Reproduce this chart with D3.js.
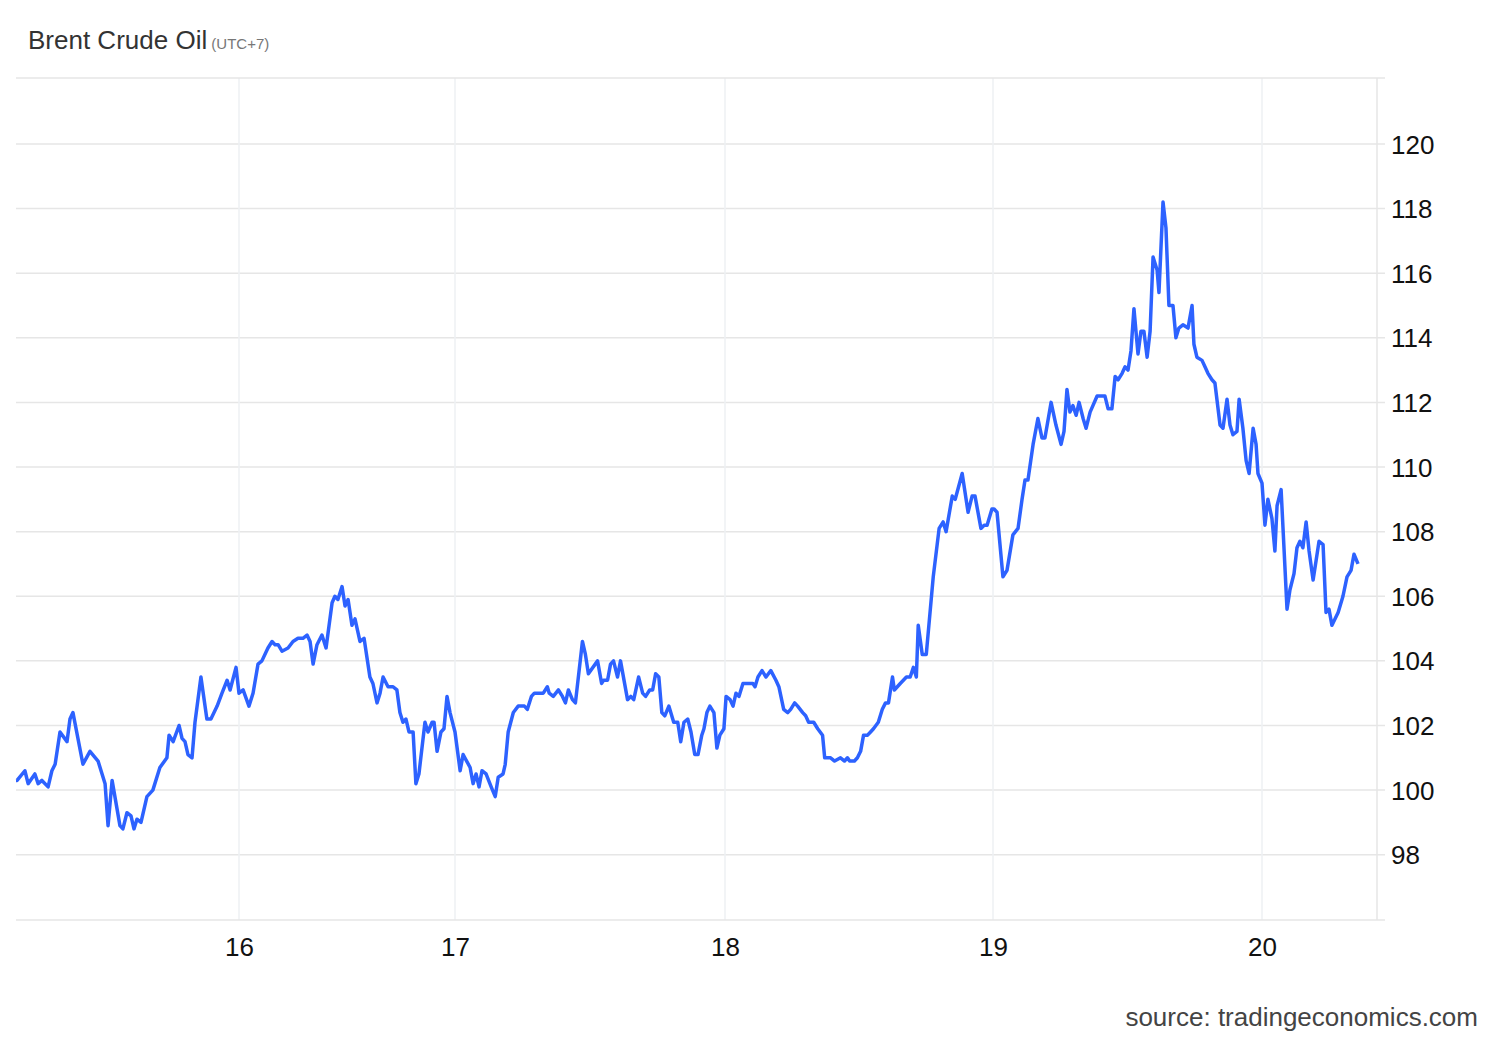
<!DOCTYPE html>
<html>
<head>
<meta charset="utf-8">
<script src="https://cdn.jsdelivr.net/npm/d3@7"></script>
<style>
  body { margin: 0; background: #fff; font-family: "Liberation Sans", Arial, sans-serif; }
  .grid line { stroke: #e6e6e6; stroke-width: 1.5; }
  .axis path, .axis line { display: none; }
  .axis text { font-size: 26px; fill: #111; font-family: "Liberation Sans", Arial, sans-serif; }
</style>
</head>
<body>
<svg id="chart" width="1500" height="1040"></svg>
<script>
// day of month (fractional, session time) and price in USD/bbl
var days = [15.174,15.178,15.207,15.219,15.244,15.256,15.270,15.293,15.307,15.319,15.337,15.363,15.374,15.385,15.422,15.448,15.478,15.504,15.515,15.530,15.559,15.570,15.585,15.600,15.611,15.622,15.637,15.659,15.681,15.707,15.733,15.741,15.756,15.778,15.789,15.800,15.811,15.826,15.837,15.859,15.881,15.896,15.919,15.937,15.956,15.967,15.989,16.000,
  16.019,16.046,16.065,16.088,16.106,16.134,16.153,16.167,16.181,16.199,16.227,16.250,16.273,16.296,16.315,16.329,16.343,16.361,16.384,16.403,16.431,16.444,16.458,16.477,16.491,16.505,16.523,16.537,16.560,16.579,16.606,16.620,16.639,16.653,16.667,16.690,16.713,16.731,16.745,16.759,16.773,16.787,16.806,16.819,16.833,16.861,16.875,16.894,16.903,16.917,16.935,16.949,16.963,16.977,17.000,
  17.019,17.030,17.056,17.067,17.078,17.089,17.100,17.115,17.134,17.149,17.160,17.178,17.186,17.197,17.216,17.234,17.249,17.257,17.268,17.283,17.294,17.316,17.327,17.342,17.349,17.364,17.383,17.398,17.409,17.420,17.435,17.446,17.472,17.483,17.494,17.528,17.543,17.550,17.565,17.576,17.587,17.602,17.613,17.639,17.651,17.662,17.680,17.695,17.706,17.721,17.732,17.743,17.755,17.766,17.777,17.792,17.810,17.825,17.836,17.848,17.862,17.874,17.888,17.900,17.914,17.922,17.933,17.944,17.959,17.970,17.981,17.996,
  18.004,18.019,18.030,18.041,18.052,18.067,18.086,18.104,18.112,18.123,18.138,18.153,18.171,18.190,18.201,18.219,18.234,18.245,18.260,18.271,18.290,18.301,18.312,18.331,18.346,18.364,18.372,18.394,18.409,18.431,18.446,18.457,18.465,18.483,18.494,18.506,18.517,18.532,18.543,18.554,18.572,18.587,18.599,18.610,18.625,18.632,18.654,18.677,18.691,18.703,18.714,18.721,18.736,18.751,18.777,18.799,18.814,18.825,18.848,18.859,18.885,18.907,18.922,18.933,18.955,18.967,18.978,18.996,
  19.004,19.015,19.037,19.052,19.074,19.093,19.108,19.119,19.130,19.149,19.167,19.182,19.193,19.216,19.234,19.253,19.264,19.275,19.286,19.297,19.309,19.320,19.335,19.346,19.361,19.387,19.401,19.416,19.428,19.442,19.454,19.465,19.480,19.491,19.502,19.513,19.524,19.539,19.550,19.561,19.573,19.584,19.595,19.610,19.617,19.632,19.643,19.654,19.669,19.680,19.691,19.706,19.725,19.740,19.747,19.758,19.777,19.788,19.799,19.814,19.825,19.844,19.855,19.870,19.881,19.892,19.907,19.915,19.929,19.941,19.952,19.967,19.978,19.985,
  20.000,20.011,20.022,20.037,20.048,20.056,20.071,20.093,20.104,20.119,20.130,20.141,20.152,20.164,20.175,20.190,20.201,20.212,20.227,20.238,20.249,20.260,20.283,20.301,20.316,20.331,20.342,20.357];

var prices = [100.3,100.3,100.6,100.2,100.5,100.2,100.3,100.1,100.6,100.8,101.8,101.5,102.2,102.4,100.8,101.2,100.9,100.2,98.9,100.3,98.9,98.8,99.3,99.2,98.8,99.1,99.0,99.8,100.0,100.7,101.0,101.7,101.5,102.0,101.6,101.5,101.1,101.0,102.1,103.5,102.2,102.2,102.6,103.0,103.4,103.1,103.8,103.0,
  103.1,102.6,103.0,103.9,104.0,104.4,104.6,104.5,104.5,104.3,104.4,104.6,104.7,104.7,104.8,104.6,103.9,104.5,104.8,104.4,105.8,106.0,105.9,106.3,105.7,105.9,105.1,105.3,104.6,104.7,103.5,103.3,102.7,103.0,103.5,103.2,103.2,103.1,102.4,102.1,102.2,101.8,101.8,100.2,100.5,102.1,101.8,102.1,102.1,101.2,101.8,101.9,102.9,102.4,101.8,
  100.6,101.1,100.7,100.2,100.5,100.1,100.6,100.5,100.1,99.8,100.4,100.5,100.8,101.8,102.4,102.6,102.6,102.6,102.5,102.9,103.0,103.0,103.0,103.2,103.0,102.9,103.1,102.9,102.7,103.1,102.8,102.7,104.6,104.2,103.6,104.0,103.3,103.4,103.4,103.9,104.0,103.5,104.0,102.8,102.9,102.8,103.5,103.0,102.9,103.1,103.1,103.6,103.5,102.4,102.3,102.6,102.1,102.1,101.5,102.1,102.2,101.8,101.1,101.1,101.7,101.9,102.4,102.6,102.4,101.3,101.7,101.9,
  102.9,102.8,102.6,103.0,102.9,103.3,103.3,103.3,103.2,103.5,103.7,103.5,103.7,103.4,103.2,102.5,102.4,102.5,102.7,102.6,102.4,102.3,102.1,102.1,101.9,101.7,101.0,101.0,100.9,101.0,100.9,101.0,100.9,100.9,101.0,101.2,101.7,101.7,101.8,101.9,102.1,102.5,102.7,102.7,103.5,103.1,103.3,103.5,103.5,103.8,103.5,105.1,104.2,104.2,106.6,108.1,108.3,108.0,109.1,109.0,109.8,108.6,109.1,109.1,108.1,108.2,108.2,108.7,
  108.7,108.6,106.6,106.8,107.9,108.1,109.0,109.6,109.6,110.7,111.5,110.9,110.9,112.0,111.3,110.7,111.1,112.4,111.7,111.9,111.6,112.0,111.5,111.2,111.7,112.2,112.2,112.2,111.8,111.8,112.8,112.7,112.9,113.1,113.0,113.6,114.9,113.5,114.2,114.2,113.4,114.2,116.5,116.1,115.4,118.2,117.4,115.0,115.0,114.0,114.3,114.4,114.3,115.0,113.8,113.4,113.3,113.1,112.9,112.7,112.6,111.3,111.2,112.1,111.3,111.0,111.1,112.1,111.2,110.2,109.8,111.2,110.7,109.8,
  109.5,108.2,109.0,108.4,107.4,108.8,109.3,105.6,106.2,106.7,107.5,107.7,107.5,108.3,107.4,106.5,107.1,107.7,107.6,105.5,105.6,105.1,105.5,106.0,106.6,106.8,107.3,107.0];

var xTicks = [16, 17, 18, 19, 20];
var yTicks = [98, 100, 102, 104, 106, 108, 110, 112, 114, 116, 118, 120];

var svg = d3.select("#chart");
var plot = { left: 16, right: 1377, top: 78, bottom: 920 };

// sessions are not equally long (16th is shorter), so a piecewise scale
var x = d3.scaleLinear()
  .domain([15, 16, 17, 18, 19, 20, 21])
  .range([-31, 239, 455, 725, 993, 1262, 1531]);

var y = d3.scaleLinear()
  .domain([95.98, 122.04])
  .range([plot.bottom, plot.top]);

// horizontal grid
svg.append("g").attr("class", "grid")
  .selectAll("line")
  .data(yTicks)
  .enter().append("line")
  .attr("x1", plot.left).attr("x2", plot.right + 8)
  .attr("y1", function(d) { return y(d); })
  .attr("y2", function(d) { return y(d); });

// vertical grid
svg.append("g").attr("class", "grid")
  .selectAll("line")
  .data(xTicks)
  .enter().append("line")
  .attr("x1", function(d) { return x(d); })
  .attr("x2", function(d) { return x(d); })
  .attr("y1", plot.top).attr("y2", plot.bottom)
  .style("stroke", "#eef0f3");

// frame lines: top, bottom, right
svg.append("line").attr("x1", plot.left).attr("x2", plot.right + 8)
  .attr("y1", plot.top).attr("y2", plot.top).style("stroke", "#e6e6e6").style("stroke-width", 1.5);
svg.append("line").attr("x1", plot.left).attr("x2", plot.right + 8)
  .attr("y1", plot.bottom).attr("y2", plot.bottom).style("stroke", "#e6e6e6").style("stroke-width", 1.5);
svg.append("line").attr("x1", plot.right).attr("x2", plot.right)
  .attr("y1", plot.top).attr("y2", plot.bottom).style("stroke", "#e6e6e6").style("stroke-width", 1.5);

svg.append("g").attr("class", "axis")
  .attr("transform", "translate(" + (plot.right + 14) + ",0)")
  .call(d3.axisRight(y).tickValues(yTicks).tickSize(0).tickPadding(0))
  .selectAll("text").attr("dy", "0.35em");

svg.append("g").attr("class", "axis")
  .attr("transform", "translate(0," + plot.bottom + ")")
  .call(d3.axisBottom(x).tickValues(xTicks).tickSize(0).tickPadding(18).tickFormat(d3.format("d")));

var series = days.map(function(d, i) { return [d, prices[i]]; });

svg.append("path")
  .datum(series)
  .attr("d", d3.line()
    .x(function(d) { return x(d[0]); })
    .y(function(d) { return y(d[1]); }))
  .style("fill", "none")
  .style("stroke", "#2d62ff")
  .style("stroke-width", 3.5)
  .style("stroke-linejoin", "round");

var title = svg.append("text")
  .attr("x", 28).attr("y", 49)
  .style("font-size", "26px").style("fill", "#333");
title.append("tspan").text("Brent Crude Oil");
title.append("tspan").text(" (UTC+7)").style("font-size", "15px").style("fill", "#777");

svg.append("text")
  .attr("x", 1478).attr("y", 1026)
  .attr("text-anchor", "end")
  .style("font-size", "26px").style("fill", "#444")
  .text("source: tradingeconomics.com");
</script>
</body>
</html>
